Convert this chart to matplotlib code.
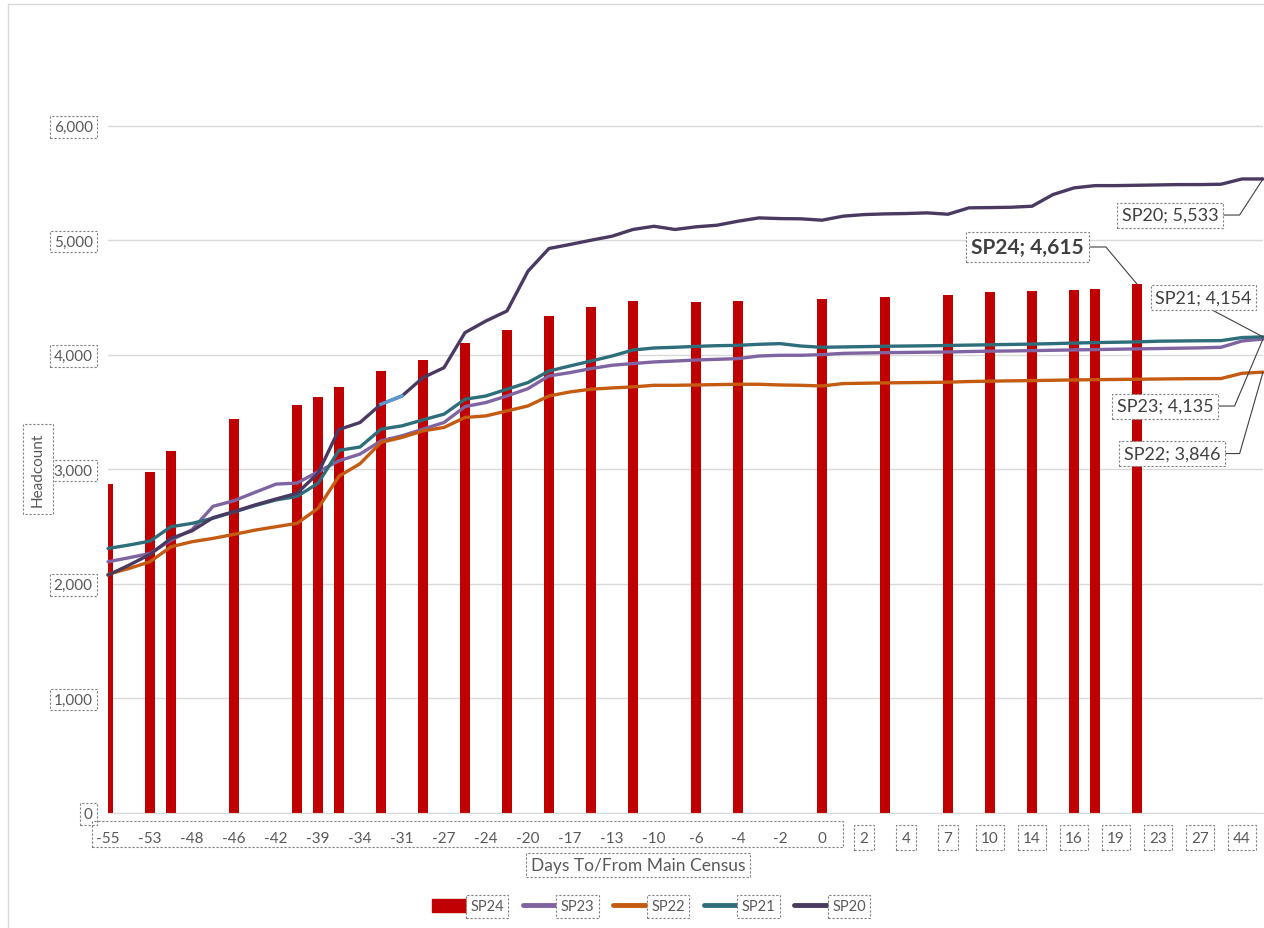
import numpy as np
import matplotlib.pyplot as plt
from matplotlib import transforms
from matplotlib.patches import Rectangle, Patch
from matplotlib.lines import Line2D

plt.rcParams['font.family'] = ['Lato', 'DejaVu Sans']

# category axis: days to/from main census (only every 2nd one is labelled)
days = [-55, -54, -53, -50, -48, -47, -46, -44, -42, -41,
        -39, -38, -34, -32, -31, -28, -27, -25, -24, -21,
        -20, -18, -17, -14, -13, -11, -10, -7, -6, -5,
        -4, -3, -2, -1, 0, 1, 2, 3, 4, 5,
        7, 9, 10, 11, 14, 15, 16, 17, 19, 21,
        23, 24, 27, 30, 44, 45]

N = None
sp24 = [2868, N, 2970, 3153, N, N, 3435, N, N, 3560,
        3633, 3720, N, 3856, N, 3949, N, 4098, N, 4211,
        N, 4336, N, 4418, N, 4467, N, N, 4459, N,
        4467, N, N, N, 4481, N, N, 4504, N, N,
        4519, N, 4545, N, 4554, N, 4563, 4575, N, 4615,
        N, N, N, N, N, N]
sp23 = [2190, 2225, 2262, 2379, 2470, 2674, 2723, 2796, 2868, 2877,
        2976, 3072, 3130, 3246, 3290, 3348, 3406, 3545, 3581, 3638,
        3702, 3813, 3842, 3877, 3906, 3921, 3935, 3943, 3952, 3958,
        3964, 3987, 3993, 3993, 3999, 4010, 4013, 4016, 4018, 4020,
        4022, 4026, 4029, 4031, 4034, 4037, 4040, 4043, 4046, 4049,
        4052, 4055, 4058, 4063, 4118, 4135]
sp22 = [2081, 2131, 2190, 2321, 2365, 2394, 2429, 2466, 2496, 2525,
        2656, 2937, 3046, 3232, 3276, 3333, 3363, 3450, 3464, 3507,
        3551, 3638, 3673, 3697, 3708, 3717, 3731, 3731, 3734, 3737,
        3740, 3740, 3734, 3731, 3725, 3746, 3749, 3752, 3754, 3756,
        3758, 3764, 3767, 3770, 3772, 3775, 3778, 3780, 3782, 3784,
        3786, 3788, 3789, 3790, 3836, 3846]
sp21 = [2306, 2336, 2370, 2496, 2525, 2570, 2625, 2680, 2730, 2760,
        2875, 3163, 3192, 3348, 3377, 3429, 3479, 3609, 3638, 3697,
        3755, 3856, 3900, 3943, 3987, 4039, 4057, 4063, 4071, 4077,
        4080, 4089, 4095, 4074, 4063, 4066, 4069, 4072, 4074, 4076,
        4079, 4082, 4085, 4088, 4091, 4095, 4100, 4104, 4107, 4110,
        4116, 4118, 4120, 4121, 4148, 4154]
sp20 = [2073, 2160, 2254, 2394, 2460, 2575, 2628, 2686, 2738, 2788,
        2963, 3345, 3406, 3566, 3638, 3798, 3885, 4191, 4293, 4380,
        4728, 4926, 4961, 4998, 5033, 5092, 5120, 5092, 5115, 5129,
        5164, 5193, 5187, 5185, 5173, 5208, 5222, 5228, 5231, 5237,
        5225, 5281, 5283, 5286, 5295, 5397, 5455, 5475, 5475, 5478,
        5481, 5484, 5484, 5487, 5533, 5533]

c24, c23, c22, c21, c20 = '#C00000', '#8064A2', '#C55A11', '#2E6E7B', '#4A3A62'
txt = '#595959'
box_ls = (0, (2, 1.6))
box_ec = '#7F7F7F'

def dbox(pad=0.3):
    return dict(boxstyle='square,pad=%s' % pad, fc='white', ec=box_ec, lw=0.8, ls=box_ls)

W, H = 1264, 929
fig = plt.figure(figsize=(W / 100, H / 100), dpi=100)
ax = fig.add_axes([108 / W, 1 - 813.5 / H, 1155 / W, 801.5 / H])

x = np.arange(len(days))
b = np.array([np.nan if v is None else v for v in sp24], dtype=float)
m = ~np.isnan(b)
ax.bar(x[m], b[m], width=0.52, color=c24, zorder=2)

for ser, col in [(sp23, c23), (sp22, c22), (sp21, c21), (sp20, c20)]:
    ax.plot(x, ser, color=col, lw=2.4, zorder=3, clip_on=False, solid_capstyle='round')
# one highlighted segment on the SP20 line
ax.plot(x[13:15], sp20[13:15], color='#5B9BD5', lw=2.4, zorder=4)

ax.set_xlim(0, len(days) - 1)
ax.set_ylim(0, 7000)
ax.set_yticks(range(0, 7000, 1000))
ax.set_yticklabels(['{:,}'.format(v) for v in range(0, 7000, 1000)])
ax.set_xticks(x[::2])
ax.set_xticklabels([str(d) for d in days[::2]])
ax.tick_params(length=0, labelsize=11, labelcolor=txt)
ax.tick_params(axis='y', pad=11)
ax.tick_params(axis='x', pad=13)
ax.grid(axis='y', color='#D9D9D9', lw=1, zorder=0)
ax.set_axisbelow(True)
for s in ['top', 'right', 'left']:
    ax.spines[s].set_visible(False)
ax.spines['bottom'].set_color('#D9D9D9')

for lbl in ax.get_yticklabels():
    lbl.set_bbox(dbox(0.25))
for lbl, d in zip(ax.get_xticklabels(), days[::2]):
    if d > 0:
        lbl.set_bbox(dbox(0.35))

# one dashed box around the -55 .. 0 labels
bt = transforms.blended_transform_factory(ax.transData, ax.transAxes)
ax.add_patch(Rectangle((-0.76, -0.043), 35.76, 0.032, transform=bt, fill=False,
                       ec=box_ec, lw=0.8, ls=box_ls, clip_on=False))

fig.text(38 / W, 1 - 470 / H, 'Headcount', rotation=90, ha='center', va='center',
         fontsize=11, color=txt, bbox=dbox(0.5))
fig.text(638 / W, 1 - 866 / H, 'Days To/From Main Census', ha='center', va='center',
         fontsize=12.5, color=txt, bbox=dbox(0.25))

# data labels on the last points
last = len(days) - 1
i24 = int(np.where(m)[0][-1])
labels = [
    ('SP20', sp20[last], last, (50.57, 5218), 57, False, (1, 0.5)),
    ('SP24', sp24[i24], i24, (43.79, 4939), -50, True, (1, 0.5)),
    ('SP21', sp21[last], last, (52.17, 4498), None, False, (0.5, 0)),
    ('SP23', sp23[last], last, (50.33, 3550), 67, False, (1, 0.5)),
    ('SP22', sp22[last], last, (50.67, 3135), 74, False, (1, 0.5)),
]
for name, val, xi, pos, ang, bold, rp in labels:
    ap = dict(arrowstyle='-', color='#404040', lw=0.8, relpos=rp, shrinkA=0, shrinkB=0)
    if ang is not None:
        ap['connectionstyle'] = 'angle,angleA=0,angleB=%d,rad=0' % ang
    ax.annotate('%s; %s' % (name, '{:,}'.format(val)), xy=(xi, val), xytext=pos,
                ha='center', va='center', fontsize=15 if bold else 13,
                fontweight='bold' if bold else 'normal', color='#404040',
                bbox=dbox(0.25), arrowprops=ap, zorder=6, annotation_clip=False)

handles = [Patch(color=c24),
           Line2D([], [], color=c23, lw=3.5, solid_capstyle='round'),
           Line2D([], [], color=c22, lw=3.5, solid_capstyle='round'),
           Line2D([], [], color=c21, lw=3.5, solid_capstyle='round'),
           Line2D([], [], color=c20, lw=3.5, solid_capstyle='round')]
leg = fig.legend(handles, ['SP24', 'SP23', 'SP22', 'SP21', 'SP20'], ncol=5,
                 loc='center', bbox_to_anchor=(649 / W, 1 - 907 / H), frameon=False,
                 fontsize=10.5, handlelength=2.6, handleheight=1.0, handletextpad=0.0,
                 columnspacing=1.3)
for t in leg.get_texts():
    t.set_color(txt)
    t.set_bbox(dbox(0.3))

# chart area border
fig.add_artist(Line2D([8 / W, 8 / W], [0, 1 - 5 / H], transform=fig.transFigure, color='#D9D9D9', lw=1))
fig.add_artist(Line2D([8 / W, 1], [1 - 5 / H, 1 - 5 / H], transform=fig.transFigure, color='#D9D9D9', lw=1))

fig.savefig('out.png', dpi=100)
